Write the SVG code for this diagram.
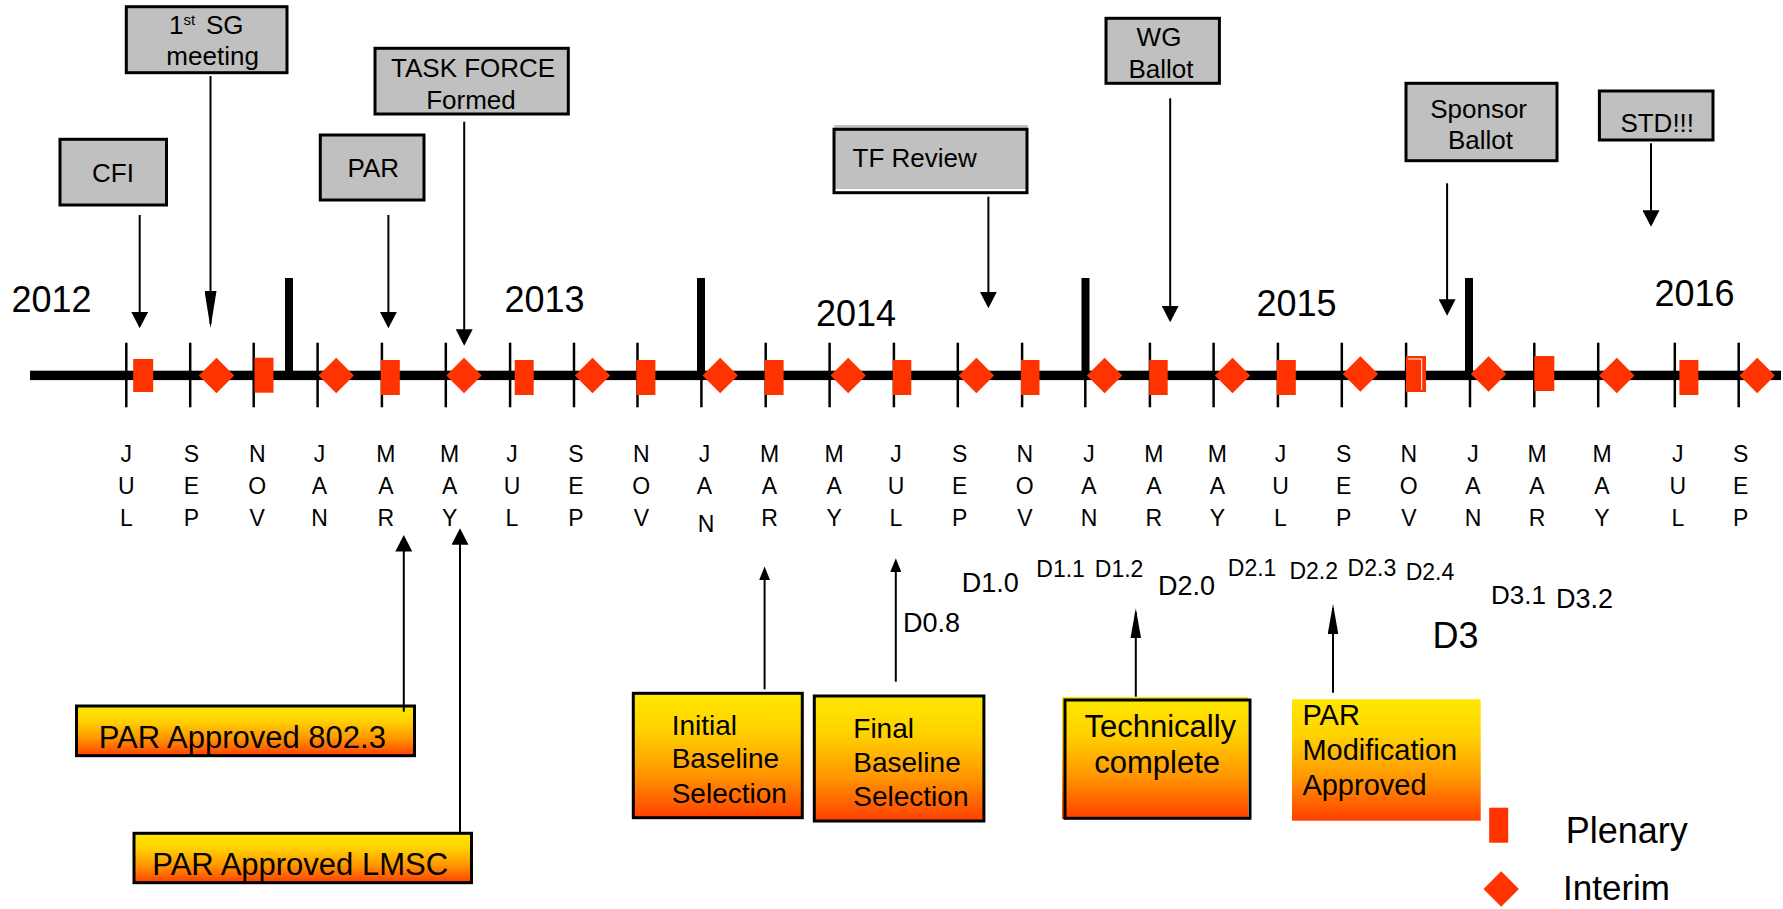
<svg xmlns="http://www.w3.org/2000/svg" width="1783" height="909" viewBox="0 0 1783 909">
<style>
text{font-family:"Liberation Sans",Arial,sans-serif;fill:#000}
.gbox{fill:#C0C0C0;stroke:#000;stroke-width:3}
.obox{fill:url(#grad);stroke:#000;stroke-width:3}
.t26{font-size:26px}
.t28{font-size:28px}
.t31{font-size:31px}
.yr{font-size:36px}
.mo{font-size:23px;text-anchor:middle}
.dl{font-size:23px}
.dm{font-size:27px}
.mid{text-anchor:middle}
.tick{stroke:#000;stroke-width:2.5}
.ytick{stroke:#000;stroke-width:8}
.pl{fill:#FF3300}
.conn{stroke:#000;stroke-width:2;fill:none}
</style>
<defs>
<linearGradient id="grad" x1="0" y1="0" x2="0" y2="1">
<stop offset="0" stop-color="#FFE800"/>
<stop offset="0.3" stop-color="#FFD200"/>
<stop offset="0.65" stop-color="#FF9600"/>
<stop offset="1" stop-color="#FF4000"/>
</linearGradient>
<polygon id="dia" points="0,-17.8 17.7,0 0,17.8 -17.7,0" fill="#FF3300"/>
<marker id="ah" markerUnits="userSpaceOnUse" markerWidth="17" markerHeight="17" viewBox="0 0 16.5 17" refX="12.5" refY="8.5" orient="auto"><path d="M0,0 L16.5,8.5 L0,17 z" fill="#000"/></marker>
<marker id="ahLong" markerUnits="userSpaceOnUse" markerWidth="37" markerHeight="12" viewBox="0 0 37 12" refX="33" refY="6" orient="auto"><path d="M0,0 L37,6 L0,12 z" fill="#000"/></marker>
<marker id="ahNL" markerUnits="userSpaceOnUse" markerWidth="30" markerHeight="11" viewBox="0 0 30 10.6" refX="26" refY="5.3" orient="auto"><path d="M0,0 L30,5.3 L0,10.6 z" fill="#000"/></marker>
<marker id="ahNS" markerUnits="userSpaceOnUse" markerWidth="14" markerHeight="11" viewBox="0 0 13.3 10.6" refX="9.3" refY="5.3" orient="auto"><path d="M0,0 L13.3,5.3 L0,10.6 z" fill="#000"/></marker>
</defs>
<rect width="1783" height="909" fill="#fff"/>

<g id="timeline">
<rect x="30" y="370.7" width="1751" height="9.4" fill="#000"/>
<g class="tick">
<line x1="126.3" y1="342.7" x2="126.3" y2="407.3"/>
<line x1="190.2" y1="342.7" x2="190.2" y2="407.3"/>
<line x1="253.7" y1="342.7" x2="253.7" y2="407.3"/>
<line x1="317.6" y1="342.7" x2="317.6" y2="407.3"/>
<line x1="381.9" y1="342.7" x2="381.9" y2="407.3"/>
<line x1="445.8" y1="342.7" x2="445.8" y2="407.3"/>
<line x1="510.1" y1="342.7" x2="510.1" y2="407.3"/>
<line x1="574" y1="342.7" x2="574" y2="407.3"/>
<line x1="637.5" y1="342.7" x2="637.5" y2="407.3"/>
<line x1="701.4" y1="342.7" x2="701.4" y2="407.3"/>
<line x1="765.7" y1="342.7" x2="765.7" y2="407.3"/>
<line x1="829.6" y1="342.7" x2="829.6" y2="407.3"/>
<line x1="893.9" y1="342.7" x2="893.9" y2="407.3"/>
<line x1="957.8" y1="342.7" x2="957.8" y2="407.3"/>
<line x1="1022.1" y1="342.7" x2="1022.1" y2="407.3"/>
<line x1="1085.3" y1="342.7" x2="1085.3" y2="407.3"/>
<line x1="1149.9" y1="342.7" x2="1149.9" y2="407.3"/>
<line x1="1213.6" y1="342.7" x2="1213.6" y2="407.3"/>
<line x1="1277.9" y1="342.7" x2="1277.9" y2="407.3"/>
<line x1="1341.8" y1="342.7" x2="1341.8" y2="407.3"/>
<line x1="1406.1" y1="342.7" x2="1406.1" y2="407.3"/>
<line x1="1470" y1="342.7" x2="1470" y2="407.3"/>
<line x1="1534.3" y1="342.7" x2="1534.3" y2="407.3"/>
<line x1="1598.2" y1="342.7" x2="1598.2" y2="407.3"/>
<line x1="1674.8" y1="342.7" x2="1674.8" y2="407.3"/>
<line x1="1738.7" y1="342.7" x2="1738.7" y2="407.3"/>
</g>
<g class="ytick">
<line x1="289" y1="278" x2="289" y2="375"/>
<line x1="701" y1="278" x2="701" y2="375"/>
<line x1="1085.5" y1="278" x2="1085.5" y2="375"/>
<line x1="1469" y1="278" x2="1469" y2="375"/>
</g>
<g class="pl">
<rect x="133.2" y="359" width="20" height="33"/>
<rect x="254.5" y="357.7" width="19" height="35"/>
<rect x="380.8" y="360" width="19" height="35"/>
<rect x="514.7" y="360" width="19" height="35"/>
<rect x="636.4" y="360" width="19" height="35"/>
<rect x="764.6" y="360" width="19" height="35"/>
<rect x="892.8" y="360" width="18.5" height="35"/>
<rect x="1021" y="360" width="18.5" height="35"/>
<rect x="1149.2" y="360" width="18.5" height="35"/>
<rect x="1276.8" y="360" width="19" height="35"/>
<rect x="1406" y="356" width="20" height="36"/>
<rect x="1534.3" y="356" width="20" height="35"/>
<rect x="1679.4" y="360" width="19" height="35"/>
</g>
<polyline points="1408,359 1421.7,359 1421.7,390" fill="none" stroke="#fff" stroke-width="1"/>
<use href="#dia" x="216.5" y="375.5"/>
<use href="#dia" x="336.2" y="375.5"/>
<use href="#dia" x="464" y="375.5"/>
<use href="#dia" x="592.5" y="375.5"/>
<use href="#dia" x="720.2" y="375.5"/>
<use href="#dia" x="848.2" y="375.5"/>
<use href="#dia" x="976.4" y="375.5"/>
<use href="#dia" x="1104.6" y="375.5"/>
<use href="#dia" x="1232.5" y="375.5"/>
<use href="#dia" x="1360.4" y="374"/>
<use href="#dia" x="1488.6" y="374"/>
<use href="#dia" x="1616.8" y="375.5"/>
<use href="#dia" x="1757.2" y="375.5"/>
</g>

<g id="years" class="yr">
<text x="11.5" y="311.7">2012</text>
<text x="504.4" y="311.7">2013</text>
<text x="816" y="326">2014</text>
<text x="1256.5" y="316">2015</text>
<text x="1654.5" y="306">2016</text>
</g>

<g id="months" class="mo">
<text x="126.3" y="461.5">J</text><text x="126.3" y="494">U</text><text x="126.3" y="526">L</text>
<text x="191.4" y="461.5">S</text><text x="191.4" y="494">E</text><text x="191.4" y="526">P</text>
<text x="257.2" y="461.5">N</text><text x="257.2" y="494">O</text><text x="257.2" y="526">V</text>
<text x="319.5" y="461.5">J</text><text x="319.5" y="494">A</text><text x="319.5" y="526">N</text>
<text x="385.8" y="461.5">M</text><text x="385.8" y="494">A</text><text x="385.8" y="526">R</text>
<text x="449.7" y="461.5">M</text><text x="449.7" y="494">A</text><text x="449.7" y="526">Y</text>
<text x="512" y="461.5">J</text><text x="512" y="494">U</text><text x="512" y="526">L</text>
<text x="576" y="461.5">S</text><text x="576" y="494">E</text><text x="576" y="526">P</text>
<text x="641.3" y="461.5">N</text><text x="641.3" y="494">O</text><text x="641.3" y="526">V</text>
<text x="704.5" y="461.5">J</text><text x="704.5" y="494">A</text><text x="706" y="531.5">N</text>
<text x="769.5" y="461.5">M</text><text x="769.5" y="494">A</text><text x="769.5" y="526">R</text>
<text x="834.2" y="461.5">M</text><text x="834.2" y="494">A</text><text x="834.2" y="526">Y</text>
<text x="896" y="461.5">J</text><text x="896" y="494">U</text><text x="896" y="526">L</text>
<text x="959.7" y="461.5">S</text><text x="959.7" y="494">E</text><text x="959.7" y="526">P</text>
<text x="1024.8" y="461.5">N</text><text x="1024.8" y="494">O</text><text x="1024.8" y="526">V</text>
<text x="1089" y="461.5">J</text><text x="1089" y="494">A</text><text x="1089" y="526">N</text>
<text x="1153.8" y="461.5">M</text><text x="1153.8" y="494">A</text><text x="1153.8" y="526">R</text>
<text x="1217.4" y="461.5">M</text><text x="1217.4" y="494">A</text><text x="1217.4" y="526">Y</text>
<text x="1280.5" y="461.5">J</text><text x="1280.5" y="494">U</text><text x="1280.5" y="526">L</text>
<text x="1343.7" y="461.5">S</text><text x="1343.7" y="494">E</text><text x="1343.7" y="526">P</text>
<text x="1408.8" y="461.5">N</text><text x="1408.8" y="494">O</text><text x="1408.8" y="526">V</text>
<text x="1473" y="461.5">J</text><text x="1473" y="494">A</text><text x="1473" y="526">N</text>
<text x="1537" y="461.5">M</text><text x="1537" y="494">A</text><text x="1537" y="526">R</text>
<text x="1602" y="461.5">M</text><text x="1602" y="494">A</text><text x="1602" y="526">Y</text>
<text x="1677.8" y="461.5">J</text><text x="1677.8" y="494">U</text><text x="1677.8" y="526">L</text>
<text x="1740.6" y="461.5">S</text><text x="1740.6" y="494">E</text><text x="1740.6" y="526">P</text>
</g>

<g id="drafts">
<text class="dm" x="903" y="631.7">D0.8</text>
<text class="dm" x="961.7" y="592.3">D1.0</text>
<text class="dl" x="1036.3" y="576.7">D1.1</text>
<text class="dl" x="1094.8" y="577.3">D1.2</text>
<text class="dm" x="1158" y="595">D2.0</text>
<text class="dl" x="1227.8" y="575.7">D2.1</text>
<text class="dl" x="1289.4" y="579.3">D2.2</text>
<text class="dl" x="1347.6" y="575.7">D2.3</text>
<text class="dl" x="1405.7" y="580">D2.4</text>
<text class="yr" x="1432.5" y="648.3">D3</text>
<text style="font-size:26px" x="1491" y="604.3">D3.1</text>
<text style="font-size:27px" x="1556" y="608.3">D3.2</text>
</g>

<g id="node-cfi">
<rect class="gbox" x="60" y="139.3" width="106.5" height="65.7"/>
<text class="t26 mid" x="113" y="182">CFI</text>
</g>
<g id="node-sg">
<rect class="gbox" x="126.3" y="6.7" width="160.7" height="66"/>
<text class="t26" x="169" y="34.3">1<tspan style="font-size:15px" dy="-9">st</tspan><tspan x="206" dy="9">SG</tspan></text>
<text class="t26 mid" x="212.6" y="65">meeting</text>
</g>
<g id="node-tf">
<rect class="gbox" x="375" y="48.3" width="193.3" height="65.7"/>
<text class="t26" x="391" y="77.3">TASK FORCE</text>
<text class="t26 mid" x="471" y="109.3">Formed</text>
</g>
<g id="node-par">
<rect class="gbox" x="320.3" y="135" width="103.7" height="65"/>
<text class="t26" x="347.5" y="176.7">PAR</text>
</g>
<g id="node-tfreview">
<rect x="834" y="125" width="194" height="64" fill="#C0C0C0"/>
<rect x="834" y="129.3" width="193" height="63.4" fill="none" stroke="#000" stroke-width="3"/>
<text class="t26" x="852.6" y="167.3">TF Review</text>
</g>
<g id="node-wg">
<rect class="gbox" x="1106" y="18.3" width="113.4" height="65"/>
<text class="t26 mid" x="1159" y="45.7">WG</text>
<text class="t26 mid" x="1161" y="78.3">Ballot</text>
</g>
<g id="node-sponsor">
<rect class="gbox" x="1406" y="83.3" width="151" height="77.4"/>
<text class="t26 mid" x="1478.6" y="118.3">Sponsor</text>
<text class="t26 mid" x="1480.5" y="149.3">Ballot</text>
</g>
<g id="node-std">
<rect class="gbox" x="1599.4" y="91" width="113.6" height="49"/>
<text class="t26" x="1620.4" y="131.7">STD!!!</text>
</g>

<g id="node-par8023">
<rect class="obox" x="76.5" y="706" width="338" height="49.7"/>
<text class="t31" x="98.7" y="748.3">PAR Approved 802.3</text>
</g>
<g id="node-parlmsc">
<rect class="obox" x="134" y="833.3" width="337.5" height="49.4"/>
<text class="t31" x="152.3" y="875">PAR Approved LMSC</text>
</g>
<g id="node-initial">
<rect class="obox" x="633.3" y="693.3" width="169" height="124.4"/>
<text class="t28" x="671.7" y="735">Initial</text>
<text class="t28" x="671.7" y="768.3">Baseline</text>
<text class="t28" x="671.7" y="802.7">Selection</text>
</g>
<g id="node-final">
<rect class="obox" x="814.3" y="696" width="169.6" height="125"/>
<text class="t28" x="853.3" y="738.3">Final</text>
<text class="t28" x="853.3" y="772.3">Baseline</text>
<text class="t28" x="853.3" y="806">Selection</text>
</g>
<g id="node-tech">
<rect x="1062" y="697" width="186" height="122" fill="url(#grad)"/>
<rect x="1065" y="700" width="185" height="118.3" fill="none" stroke="#000" stroke-width="3"/>
<text class="t31" x="1084.5" y="736.5">Technically</text>
<text class="t31" x="1094.3" y="773.3">complete</text>
</g>
<g id="node-parmod">
<rect x="1292" y="699.3" width="188.7" height="121.4" fill="url(#grad)"/>
<text style="font-size:29px" x="1302.4" y="725">PAR</text>
<text style="font-size:29px" x="1302.4" y="760">Modification</text>
<text style="font-size:29px" x="1302.4" y="795">Approved</text>
</g>

<g id="legend">
<rect class="pl" x="1489.2" y="807.7" width="19" height="35"/>
<text class="yr" x="1565.7" y="843">Plenary</text>
<use href="#dia" x="1501.2" y="889"/>
<text style="font-size:35px" x="1563" y="900">Interim</text>
</g>

<g id="connectors" class="conn">
<line x1="139.7" y1="215" x2="139.7" y2="324.3" marker-end="url(#ah)"/>
<line x1="210.5" y1="76" x2="210.5" y2="324" marker-end="url(#ahLong)"/>
<line x1="388.4" y1="215" x2="388.4" y2="324.3" marker-end="url(#ah)"/>
<line x1="464.2" y1="121.7" x2="464.2" y2="341.7" marker-end="url(#ah)"/>
<line x1="988.4" y1="196.7" x2="988.4" y2="304.3" marker-end="url(#ah)"/>
<line x1="1170.2" y1="98.3" x2="1170.2" y2="318.3" marker-end="url(#ah)"/>
<line x1="1447.1" y1="183.3" x2="1447.1" y2="311.7" marker-end="url(#ah)"/>
<line x1="1651" y1="143.3" x2="1651" y2="222.7" marker-end="url(#ah)"/>
<line x1="403.8" y1="711.7" x2="403.8" y2="539" marker-end="url(#ah)"/>
<line x1="460" y1="833.3" x2="460" y2="532.3" marker-end="url(#ah)"/>
<line x1="764.6" y1="689.3" x2="764.6" y2="570.7" marker-end="url(#ahNS)"/>
<line x1="895.8" y1="681.7" x2="895.8" y2="562.3" marker-end="url(#ahNS)"/>
<line x1="1135.8" y1="696.7" x2="1135.8" y2="612.3" marker-end="url(#ahNL)"/>
<line x1="1333" y1="692.7" x2="1333" y2="608" marker-end="url(#ahNL)"/>
</g>
</svg>
